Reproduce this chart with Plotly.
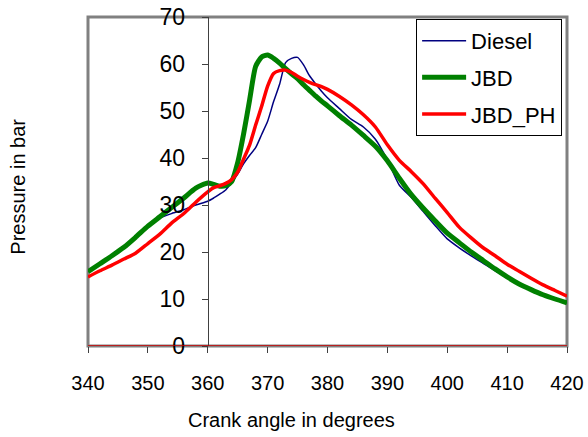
import plotly.graph_objects as go

crank_angle = [340, 342, 344, 346, 348, 350, 352, 354, 356, 358, 360, 361, 362, 363, 364,
               365, 366, 367, 368, 369, 370, 371, 372, 373, 374, 375, 376, 377, 378, 379,
               380, 382, 384, 386, 388, 390, 392, 394, 396, 398, 400, 402, 404, 406, 408,
               410, 412, 414, 416, 418, 420]

diesel = [15.8, 17.5, 19.2, 21.0, 23.2, 25.2, 27.2, 28.2, 29.0, 30.0, 30.8, 31.5, 32.3, 33.2, 34.8,
          36.6, 38.8, 40.6, 42.2, 45.0, 47.8, 52.0, 55.7, 60.3, 61.2, 61.4, 59.8, 57.5, 55.8, 54.2,
          52.8, 50.5, 48.2, 46.6, 44.0, 39.6, 34.2, 31.6, 28.6, 25.6, 22.8, 20.9, 19.2, 17.6, 16.0,
          14.6, 13.2, 12.0, 10.9, 10.0, 9.2]

jbd = [15.8, 17.5, 19.2, 21.0, 23.2, 25.5, 27.5, 29.5, 31.5, 33.6, 34.7, 34.4, 34.0, 34.1, 35.0,
       39.0, 45.2, 52.4, 59.5, 61.5, 61.9, 61.2, 60.2, 59.0, 57.9, 56.9, 55.6, 54.4, 53.2, 52.1,
       51.1, 49.0, 47.0, 44.8, 42.5, 39.4, 35.7, 32.2, 29.3, 26.6, 24.0, 22.0, 20.0, 18.2, 16.4,
       14.7, 13.2, 12.0, 10.9, 10.0, 9.2]

jbd_ph = [14.7, 16.0, 17.2, 18.5, 19.8, 21.8, 23.8, 26.2, 28.2, 30.6, 32.8, 33.7, 34.1, 34.6, 35.4,
          37.0, 39.8, 42.8, 47.0, 51.0, 55.3, 58.0, 58.6, 58.7, 58.2, 57.4, 56.7, 56.1, 55.6, 55.2,
          54.6, 53.1, 51.3, 49.2, 46.6, 42.8, 39.5, 37.1, 34.5, 31.4, 28.4, 25.3, 23.0, 20.9, 19.2,
          17.4, 15.9, 14.4, 13.0, 11.8, 10.6]

x_ticks = [340, 350, 360, 370, 380, 390, 400, 410, 420]
y_ticks = [0, 10, 20, 30, 40, 50, 60, 70]

FONT = "Arial, Liberation Sans, sans-serif"

fig = go.Figure()
fig.add_trace(go.Scatter(x=crank_angle, y=diesel, name="Diesel", mode="lines",
                         line=dict(color="#000080", width=1.5, shape="spline", smoothing=0.6),
                         legendgroup="a"))
fig.add_trace(go.Scatter(x=crank_angle, y=jbd, name="JBD", mode="lines",
                         line=dict(color="#008000", width=5, shape="spline", smoothing=0.6),
                         legendgroup="b"))
fig.add_trace(go.Scatter(x=crank_angle, y=jbd_ph, name="JBD_PH", mode="lines",
                         line=dict(color="#ff0000", width=3.5, shape="spline", smoothing=0.6),
                         legendgroup="c"))

fig.update_layout(
    width=588, height=437,
    margin=dict(l=88, r=21, t=17, b=91, autoexpand=False),
    paper_bgcolor="white", plot_bgcolor="white",
    font=dict(family=FONT, color="black", size=20),
    showlegend=True,
    legend=dict(x=0.685, y=0.994, xanchor="left", yanchor="top",
                bgcolor="white", bordercolor="black", borderwidth=1,
                font=dict(size=22, family=FONT), tracegroupgap=5,
                traceorder="grouped", itemwidth=44),
    xaxis=dict(range=[340, 420], tickvals=x_ticks, ticks="outside", ticklen=6,
               tickcolor="#404040", showgrid=False, zeroline=False, showline=False,
               tickfont=dict(size=20), ticklabelstandoff=13, automargin=False,
               ticklabeloverflow="allow"),
    yaxis=dict(range=[0, 70], tickvals=y_ticks, ticks="outside", ticklen=6,
               tickcolor="#404040", showgrid=False, zeroline=False, showline=True,
               linecolor="#404040", linewidth=1, anchor="free", position=0.25,
               tickfont=dict(size=23), ticklabelstandoff=12, automargin=False,
               ticklabeloverflow="allow"),
    shapes=[
        dict(type="rect", xref="paper", yref="paper", x0=0, x1=1, y0=0, y1=1,
             line=dict(color="#808080", width=3), layer="below"),
        dict(type="line", xref="paper", yref="y", x0=0, x1=1, y0=0, y1=0,
             line=dict(color="#cc0000", width=1.5), layer="above"),
    ],
    annotations=[
        dict(text="Crank angle in degrees", xref="paper", yref="paper",
             x=0.4238, y=-0.225, showarrow=False, xanchor="center", yanchor="middle",
             font=dict(size=20)),
        dict(text="Pressure in bar", xref="paper", yref="paper",
             x=-0.145, y=0.483, showarrow=False, textangle=-90,
             xanchor="center", yanchor="middle", font=dict(size=20)),
    ],
)

# remove the default 8px page margin so the 588x437 figure fills the window exactly
fig.write_html("out.html",
               config={"displayModeBar": False},
               post_script="document.body.style.margin='0';document.body.style.overflow='hidden';")
